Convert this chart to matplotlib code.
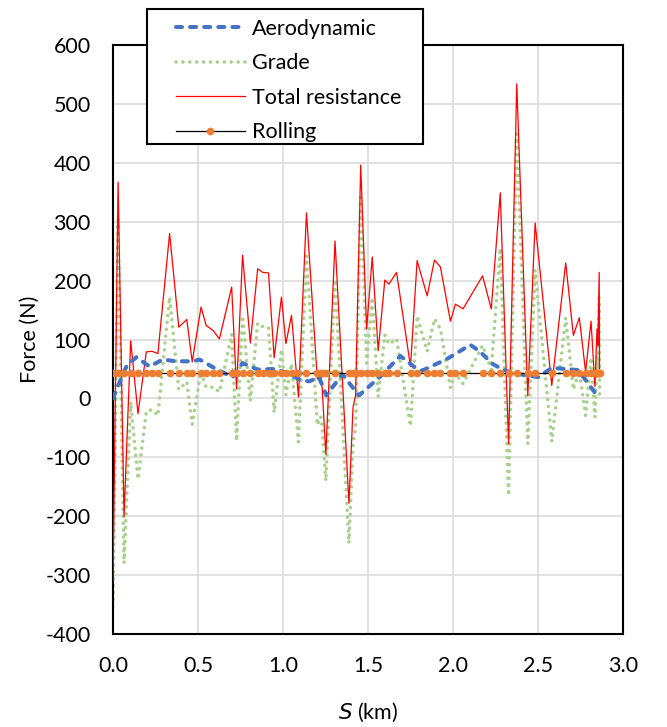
import matplotlib.pyplot as plt
from matplotlib.lines import Line2D
from matplotlib.patches import Rectangle

plt.rcParams['font.family'] = ['Lato', 'DejaVu Sans']
plt.rcParams['axes.unicode_minus'] = False

# distance (km) and total resistance (N)
s_total = [0.000, 0.030, 0.065, 0.104, 0.147, 0.196, 0.230, 0.264, 0.333, 0.387,
           0.434, 0.466, 0.518, 0.548, 0.590, 0.626, 0.698, 0.727, 0.762, 0.808,
           0.851, 0.880, 0.915, 0.948, 0.991, 1.017, 1.050, 1.091, 1.138, 1.202,
           1.222, 1.230, 1.252, 1.306, 1.388, 1.412, 1.427, 1.457, 1.492, 1.525,
           1.560, 1.599, 1.623, 1.668, 1.750, 1.789, 1.848, 1.891, 1.926, 1.985,
           2.014, 2.059, 2.174, 2.225, 2.278, 2.327, 2.375, 2.440, 2.483, 2.581,
           2.663, 2.708, 2.743, 2.780, 2.812, 2.835, 2.847, 2.852, 2.860, 2.862]
total = [-310, 367, -201, 98, -26, 79, 80, 76, 280, 121,
         134, 62, 155, 124, 115, 101, 189, 16, 243, 94,
         220, 214, 213, 69, 172, 93, 141, 2, 315, 33,
         42, 20, -95, 267, -178, -15, 5, 396, 118, 240,
         81, 201, 194, 214, 54, 234, 174, 235, 223, 131,
         160, 152, 208, 152, 349, -77, 534, 5, 298, 22,
         230, 107, 137, 45, 131, 20, 118, 90, 214, 50]
grade = [-353, 303, -280, -6, -137, -22, -19, -29, 172, 15,
         28, -44, 46, 19, 19, 11, 109, -72, 140, -4,
         128, 122, 120, -24, 83, 6, 59, -74, 242, -45,
         -31, -48, -140, 202, -246, -75, -50, 347, 60, 171,
         3, 108, 92, 101, -47, 140, 80, 135, 118, 18,
         42, 25, 90, 49, 255, -165, 449, -77, 218, -73,
         137, 15, 47, -29, 69, -32, 71, 44, 171, 7]
rolling = [43] * len(s_total)

# aerodynamic drag
s_aero = [0.000, 0.035, 0.080, 0.137, 0.176, 0.215, 0.293, 0.372, 0.470, 0.509,
          0.606, 0.704, 0.762, 0.851, 0.948, 1.017, 1.105, 1.154, 1.212, 1.255,
          1.349, 1.447, 1.564, 1.690, 1.770, 1.818, 1.965, 2.102, 2.161, 2.229,
          2.287, 2.346, 2.503, 2.581, 2.659, 2.737, 2.796, 2.860]
aero = [0, 25, 55, 70, 62, 54, 66, 63, 63, 66,
        50, 36, 60, 49, 50, 44, 31, 29, 36, 5,
        41, 5, 35, 72, 54, 47, 67, 91, 79, 59,
        50, 43, 36, 52, 50, 48, 25, 0]

FS = 15.5
fig = plt.figure(figsize=(6.67, 7.27), dpi=100)
ax = fig.add_axes([113 / 667, 93 / 727, 510 / 667, 589 / 727])

ax.plot(s_total, grade, color='#A9D18E', lw=2.6, ls=(0, (0.01, 1.9)),
        dash_capstyle='round', zorder=2)
ax.plot(s_total, total, color='#FF0000', lw=0.9, zorder=3)
ax.plot(s_aero, aero, color='#4472C4', lw=2.9, ls=(0, (1.5, 2.0)),
        dash_capstyle='round', zorder=4)
ax.plot(s_total, rolling, color='black', lw=0.9, marker='o', ms=4.5,
        mfc='#ED7D31', mec='#ED7D31', zorder=5)

ax.set_xlim(0, 3)
ax.set_ylim(-400, 600)
ax.set_xticks([0, 0.5, 1.0, 1.5, 2.0, 2.5, 3.0])
ax.set_xticklabels(['0.0', '0.5', '1.0', '1.5', '2.0', '2.5', '3.0'])
ax.set_yticks(range(-400, 601, 100))
ax.tick_params(length=0, labelsize=FS, pad=16)
ax.grid(color='#D9D9D9', lw=1.1)
ax.set_axisbelow(True)
for sp in ax.spines.values():
    sp.set_linewidth(1.5)

ax.set_xlabel('$\\mathit{S}$ (km)', fontsize=FS)
ax.set_ylabel('Force (N)', fontsize=FS)
ax.xaxis.set_label_coords(0.5, -0.114)
ax.yaxis.set_label_coords(-0.143, 0.5)

box = Rectangle((147 / 667, 1 - 144 / 727), 276 / 667, 135 / 727,
                transform=fig.transFigure, facecolor='white',
                edgecolor='black', lw=1.5, zorder=4)
fig.add_artist(box)

handles = [
    Line2D([], [], color='#4472C4', lw=2.9, ls=(0, (1.5, 2.0)), dash_capstyle='round'),
    Line2D([], [], color='#A9D18E', lw=2.6, ls=(0, (0.01, 1.9)), dash_capstyle='round'),
    Line2D([], [], color='#FF0000', lw=0.9),
    Line2D([], [], color='black', lw=0.9, marker='o', ms=4.5,
           mfc='#ED7D31', mec='#ED7D31'),
]
labels = ['Aerodynamic', 'Grade', 'Total resistance', 'Rolling']
leg = fig.legend(handles, labels, loc='upper left',
                 bbox_to_anchor=(176 / 667, 1 - 19 / 727), frameon=False,
                 borderpad=0, borderaxespad=0, fontsize=FS,
                 handlelength=3.2, handletextpad=0.35, labelspacing=0.67,
                 markerscale=1.0)
leg.set_zorder(6)

fig.savefig('out.png', dpi=100)
